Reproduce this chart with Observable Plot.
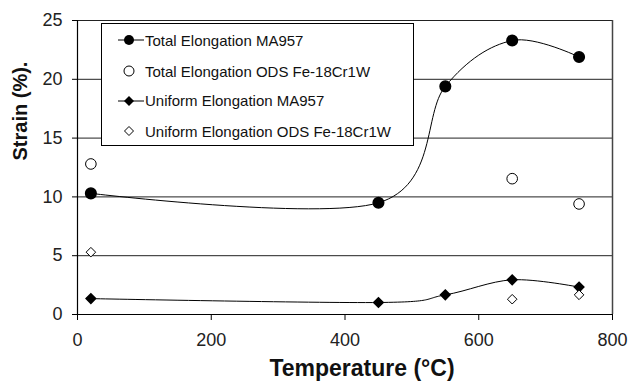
<!DOCTYPE html>
<html>
<head>
<meta charset="utf-8">
<script src="https://cdn.jsdelivr.net/npm/d3@7"></script>
<script src="https://cdn.jsdelivr.net/npm/@observablehq/plot@0.6"></script>
<style>
  html, body { margin: 0; padding: 0; background: #fff; }
  #wrap { position: relative; width: 630px; height: 382px; font-family: "Liberation Sans", Arial, sans-serif; }
  #legend { position: absolute; left: 101px; top: 23px; width: 311px; height: 121px; border: 1px solid #000; background: #fff; box-sizing: content-box; }
  .row { position: absolute; left: 0; height: 20px; display: flex; align-items: center; font-size: 15px; color: #111; white-space: nowrap; }
  .row svg { width: 43px; height: 20px; }
</style>
</head>
<body>
<div id="wrap"></div>
<script>
// ---- data ----
const temps = [20, 450, 550, 650, 750];
const totalMA957 = [10.3, 9.5, 19.4, 23.3, 21.9];
const uniformMA957 = [1.35, 1.02, 1.67, 2.95, 2.33];
const odsTemps = [20, 650, 750];
const totalODS = [12.8, 11.55, 9.4];
const uniformODS = [5.3, 1.3, 1.67];
const seriesNames = [
  "Total Elongation MA957",
  "Total Elongation ODS Fe-18Cr1W",
  "Uniform Elongation MA957",
  "Uniform Elongation ODS Fe-18Cr1W"
];
const xTicks = [0, 200, 400, 600, 800];
const yTicks = [0, 5, 10, 15, 20, 25];
const xTitle = "Temperature (°C)";
const yTitle = "Strain (%).";

const tMA = temps.map((t, i) => ({x: t, y: totalMA957[i]}));
const uMA = temps.map((t, i) => ({x: t, y: uniformMA957[i]}));
const tODS = odsTemps.map((t, i) => ({x: t, y: totalODS[i]}));
const uODS = odsTemps.map((t, i) => ({x: t, y: uniformODS[i]}));

const font = "Liberation Sans, Arial, sans-serif";

const chart = Plot.plot({
  width: 630,
  height: 382,
  marginLeft: 77,
  marginRight: 18,
  marginTop: 20,
  marginBottom: 68,
  style: {fontFamily: font, background: "#fff", overflow: "visible"},
  x: {domain: [0, 800]},
  y: {domain: [0, 25]},
  marks: [
    Plot.ruleY(yTicks.filter(d => d > 0), {stroke: "#222", strokeWidth: 1}),
    Plot.ruleX([800], {y1: 0, y2: 25, stroke: "#444", strokeWidth: 1.5}),
    Plot.axisX({ticks: xTicks, tickSize: 6, tickPadding: 13, fontSize: 18, label: null, stroke: "#000", fill: "#222"}),
    Plot.axisY({ticks: yTicks, tickSize: 5, tickPadding: 10, fontSize: 18, label: null, stroke: "#000", fill: "#222"}),
    Plot.ruleX([0], {y1: 0, y2: 25, stroke: "#000", strokeWidth: 1.2}),
    Plot.ruleY([0], {stroke: "#000", strokeWidth: 1.2}),
    Plot.line(tMA, {x: "x", y: "y", curve: "cardinal", stroke: "#000", strokeWidth: 1}),
    Plot.line(uMA, {x: "x", y: "y", curve: "cardinal", stroke: "#000", strokeWidth: 1}),
    Plot.dot(tMA, {x: "x", y: "y", r: 5.3, fill: "#000", stroke: "#000"}),
    Plot.dot(tODS, {x: "x", y: "y", r: 5.3, fill: "#fff", stroke: "#000", strokeWidth: 1}),
    Plot.dot(uMA, {x: "x", y: "y", symbol: "diamond2", r: 4.3, fill: "#000", stroke: "#000"}),
    Plot.dot(uODS, {x: "x", y: "y", symbol: "diamond2", r: 4.3, fill: "#fff", stroke: "#000", strokeWidth: 1}),
    Plot.text([xTitle], {frameAnchor: "bottom", dx: 17, dy: 61, fontSize: 23, fontWeight: "bold", fill: "#111"}),
    Plot.text([yTitle], {frameAnchor: "left", dx: -57, dy: -7, rotate: -90, fontSize: 20, fontWeight: "bold", fill: "#111"})
  ]
});
const wrap = document.getElementById("wrap");
wrap.appendChild(chart);

// legend overlay
const legend = document.createElement("div");
legend.id = "legend";
const markers = [
  `<line x1="16" x2="42" y1="10" y2="10" stroke="#000"/><circle cx="27" cy="10" r="5" fill="#000"/>`,
  `<circle cx="27" cy="10" r="5" fill="#fff" stroke="#000"/>`,
  `<line x1="16" x2="42" y1="10" y2="10" stroke="#000"/><path d="M27,5L32,10L27,15L22,10Z" fill="#000"/>`,
  `<path d="M27,5.5L31.5,10L27,14.5L22.5,10Z" fill="#fff" stroke="#000"/>`
];
const rowCenters = [16, 47, 76.5, 107];
seriesNames.forEach((name, i) => {
  const row = document.createElement("div");
  row.className = "row";
  row.style.top = (rowCenters[i] - 10) + "px";
  row.innerHTML = `<svg viewBox="0 0 43 20">${markers[i]}</svg><span>${name}</span>`;
  legend.appendChild(row);
});
wrap.appendChild(legend);
</script>
</body>
</html>
